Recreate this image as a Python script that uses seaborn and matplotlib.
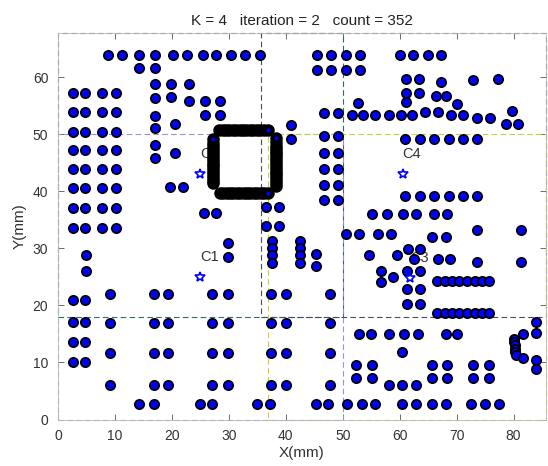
import pandas as pd
import seaborn as sns
import matplotlib.pyplot as plt
from matplotlib.patches import Rectangle

# points, grouped by area (x, y in mm)
top_left = [(8.8, 64.0), (11.2, 64.0), (14.3, 64.0), (17.0, 64.0), (20.2, 64.0), (22.6, 64.0),
            (25.5, 64.0), (27.8, 64.0), (30.3, 64.0), (32.8, 64.0), (35.4, 64.0),
            (14.3, 61.6), (17.0, 61.6),
            (17.0, 58.9), (19.9, 58.9), (23.0, 58.9),
            (17.0, 56.4), (19.9, 56.5),
            (23.0, 55.8), (25.8, 55.8), (28.5, 55.8),
            (25.8, 53.5), (28.5, 53.5),
            (17.0, 53.3), (17.0, 51.2), (17.0, 48.2), (17.0, 45.9),
            (20.5, 51.8), (20.5, 46.8)]

left_block = [(2.6, 57.2), (4.7, 57.2), (7.8, 57.2), (10.1, 57.2),
              (2.6, 53.9), (4.7, 53.9), (7.8, 53.9), (10.1, 53.9),
              (2.6, 50.4), (4.7, 50.4), (7.8, 50.4), (10.1, 50.4),
              (2.6, 47.2), (4.7, 47.2), (7.8, 47.2), (10.1, 47.2),
              (2.6, 43.9), (4.7, 43.9), (7.8, 43.9), (10.1, 43.9),
              (2.6, 40.6), (4.7, 40.6), (7.8, 40.6), (10.1, 40.6),
              (2.6, 37.1), (4.7, 37.1), (7.8, 37.1), (10.1, 37.1),
              (2.6, 33.6), (4.7, 33.6), (7.8, 33.6), (10.1, 33.6)]

left_low = [(5.0, 28.8), (5.0, 26.1), (2.6, 20.9), (4.8, 20.9), (2.6, 17.1), (4.8, 17.1),
            (2.6, 13.6), (4.8, 13.6), (2.6, 10.1), (4.8, 10.1)]

lower_grid = [(9.1, 22.1), (16.8, 22.1), (19.4, 22.1), (27.1, 22.1), (29.9, 22.1), (37.4, 22.1), (40.0, 22.1), (47.7, 22.1),
              (9.1, 16.9), (16.8, 16.9), (19.4, 16.9), (27.1, 16.9), (29.9, 16.9), (37.4, 16.9), (40.0, 16.9), (47.7, 16.9),
              (9.1, 11.7), (16.8, 11.7), (19.4, 11.7), (27.1, 11.7), (29.9, 11.7), (37.4, 11.7), (40.0, 11.7), (47.7, 11.7),
              (9.1, 6.1), (16.8, 6.1), (19.4, 6.1), (27.1, 6.1), (29.9, 6.1), (37.4, 6.1), (40.0, 6.1), (47.7, 6.1)]

bottom_row = [(14.3, 2.8), (16.8, 2.8), (24.9, 2.8), (27.1, 2.8), (35.0, 2.8), (37.2, 2.8),
              (45.3, 2.8), (47.4, 2.8), (50.8, 2.8), (53.4, 2.8), (55.6, 2.8), (60.4, 2.8),
              (62.8, 2.8), (65.7, 2.8), (68.1, 2.8), (72.6, 2.8), (74.9, 2.8), (77.5, 2.8)]

lower_right = [(52.9, 15.0), (55.0, 15.0), (58.2, 15.0), (60.8, 15.0), (63.2, 15.0), (68.1, 15.0), (70.1, 15.0),
               (60.4, 11.8),
               (52.3, 9.5), (55.2, 9.5), (65.7, 9.5), (68.3, 9.5), (72.9, 9.5), (75.7, 9.5),
               (52.3, 7.3), (55.2, 7.3), (65.7, 7.3), (68.3, 7.3), (72.9, 7.3), (75.7, 7.3),
               (58.2, 6.0), (60.4, 6.0), (62.9, 6.0)]

right_edge = [(80.0, 14.2), (80.1, 13.6), (80.2, 13.0), (80.2, 12.4), (80.3, 11.8), (80.4, 11.3),
              (81.6, 15.0), (81.6, 10.8), (84.0, 17.1), (84.0, 15.2), (84.0, 10.5), (84.0, 8.8)]

mid_right = [(61.3, 22.9), (63.5, 22.9), (61.3, 20.2), (63.5, 20.2),
             (66.5, 24.3), (67.9, 24.3), (69.2, 24.3), (70.5, 24.3), (71.8, 24.3), (73.2, 24.3), (74.4, 24.3), (75.7, 24.3),
             (66.5, 18.6), (67.9, 18.6), (69.2, 18.6), (70.5, 18.6), (71.8, 18.6), (73.2, 18.6), (74.4, 18.6), (75.7, 18.6),
             (56.8, 26.0), (61.3, 26.0), (63.6, 26.0), (56.8, 24.1), (58.8, 25.0),
             (62.6, 28.2), (66.7, 28.2), (68.9, 28.2),
             (54.6, 28.9), (59.5, 28.9),
             (61.5, 29.9), (63.6, 29.9),
             (73.6, 33.3), (81.3, 33.3), (73.6, 27.6), (81.3, 27.6),
             (50.6, 32.5), (52.9, 32.5), (56.2, 32.5), (58.4, 32.5), (65.7, 32.0), (68.1, 32.0),
             (55.2, 36.1), (57.7, 36.1), (60.6, 36.1), (62.9, 36.1), (66.1, 36.1), (68.3, 36.1),
             (60.9, 39.2), (63.5, 39.2), (66.1, 39.2), (68.6, 39.2), (71.1, 39.2), (73.6, 39.2)]

upper_right = [(61.0, 49.2), (63.5, 49.2), (66.1, 49.2), (68.6, 49.2), (71.1, 49.2), (73.6, 49.2),
               (51.6, 53.4), (53.6, 53.5), (55.6, 53.5), (58.1, 53.5), (60.2, 53.5), (62.2, 53.5),
               (64.4, 54.0), (66.7, 54.0), (69.1, 53.4), (71.1, 53.4), (73.6, 52.9), (75.9, 52.9),
               (79.7, 54.1), (78.7, 51.8), (80.8, 51.8),
               (61.2, 59.8), (63.4, 59.8), (67.2, 59.2), (72.9, 59.6), (77.3, 59.8),
               (61.1, 57.2), (63.4, 57.2), (61.2, 55.7), (66.3, 56.8), (68.2, 56.8), (70.1, 55.4),
               (52.7, 55.6),
               (45.4, 64.0), (48.0, 64.0), (50.5, 64.0), (53.1, 64.0),
               (45.4, 61.3), (48.0, 61.3), (50.5, 61.3), (53.1, 61.3),
               (60.0, 64.0), (62.3, 64.0), (64.9, 64.0), (67.3, 64.0)]

middle = [(36.6, 37.3), (38.8, 37.3), (36.6, 33.9), (38.8, 33.9),
          (37.5, 31.3), (37.5, 30.1), (37.5, 28.8), (37.5, 27.5),
          (42.5, 31.3), (42.5, 30.1), (42.5, 28.8), (42.5, 27.5),
          (45.3, 29.0), (45.3, 26.9),
          (29.9, 31.0), (29.9, 28.5),
          (46.8, 53.8), (49.2, 53.8), (46.8, 49.7), (49.2, 49.7), (46.8, 46.8), (49.2, 46.8),
          (46.8, 44.0), (49.2, 44.0), (46.8, 41.2), (49.2, 41.2), (46.8, 38.5), (49.2, 38.5),
          (41.0, 51.6), (41.0, 49.2),
          (19.6, 40.8), (21.9, 40.8), (25.7, 36.2), (27.8, 36.2)]

# dense ring of points in the middle
ring_top = [(28.3, 50.8), (28.9, 50.8), (29.5, 50.8), (30.1, 50.8), (30.7, 50.8), (31.3, 50.8), (31.9, 50.8),
            (32.5, 50.8), (33.1, 50.8), (33.7, 50.8), (34.3, 50.8), (34.9, 50.8), (35.5, 50.8), (36.1, 50.8), (36.8, 50.8)]
ring_bottom = [(28.4, 39.8), (29.0, 39.8), (29.6, 39.8), (30.2, 39.8), (30.8, 39.8), (31.4, 39.8), (32.0, 39.8),
               (32.6, 39.8), (33.2, 39.8), (33.8, 39.8), (34.4, 39.8), (35.0, 39.8), (35.6, 39.8), (36.2, 39.8), (36.9, 39.8)]
ring_left = [(27.2, 41.4), (27.2, 41.9), (27.2, 42.4), (27.2, 42.9), (27.2, 43.4), (27.2, 43.9), (27.2, 44.4), (27.2, 44.9),
             (27.2, 45.4), (27.2, 45.9), (27.2, 46.4), (27.2, 46.9), (27.2, 47.4), (27.2, 47.9), (27.2, 48.5), (27.2, 49.2)]
ring_right = [(38.2, 41.0), (38.2, 41.5), (38.2, 42.0), (38.2, 42.5), (38.2, 43.0), (38.2, 43.5), (38.2, 44.0), (38.2, 44.5),
              (38.2, 45.0), (38.2, 45.5), (38.2, 46.0), (38.2, 46.5), (38.2, 47.0), (38.2, 47.5), (38.2, 48.0),
              (38.2, 48.6), (38.2, 49.3)]

centers = ["C1", "C2", "C3", "C4"]
center_x = [25.0, 25.0, 61.9, 60.6]
center_y = [25.0, 43.0, 24.9, 43.0]

# cluster boxes: (x0, x1, y0, y1, colour)
boxes = [(0, 50, 18, 67.8, "#2f6b6b"),
         (35.6, 85.7, 18, 67.8, "#4a4a5e"),
         (0, 50, 0, 50, "#a58bd0"),
         (36.8, 85.7, 0, 50, "#c9cc3f")]

pts = (top_left + left_block + left_low + lower_grid + bottom_row + lower_right + right_edge
       + mid_right + upper_right + middle)
ring = ring_top + ring_bottom + ring_left + ring_right
df = pd.DataFrame(pts, columns=["x", "y"])
df_ring = pd.DataFrame(ring, columns=["x", "y"])

sns.set_style("ticks")
plt.rcParams["font.family"] = ["Liberation Sans", "DejaVu Sans"]

fig = plt.figure(figsize=(5.48, 4.66), dpi=100)
ax = fig.add_axes([58 / 548, 46.5 / 466, 488 / 548, 386.5 / 466])

for x0, x1, y0, y1, c in boxes:
    ax.add_patch(Rectangle((x0, y0), x1 - x0, y1 - y0, fill=False, edgecolor=c,
                           linestyle=(0, (5, 3)), linewidth=0.8, zorder=2, clip_on=False))

for name, cx, cy in zip(centers, center_x, center_y):
    ax.text(cx - 0.1, cy + 3.5, name, fontsize=10.5, color="#333333", ha="left", va="center", zorder=1)

sns.scatterplot(data=df, x="x", y="y", color="#0000ff", edgecolor="black", s=44, linewidth=1.3,
                marker="o", ax=ax, zorder=3, legend=False)
# the ring points overlap so heavily that their edges read as a black band
sns.scatterplot(data=df_ring, x="x", y="y", color="#0000ff", edgecolor="black", s=36, linewidth=3.0,
                marker="o", ax=ax, zorder=3, legend=False)
ax.plot(center_x, center_y, linestyle="none", marker="*", markersize=7, mfc="white", mec="#0000ff",
        mew=1.2, zorder=4)

ax.set_xlim(0, 85.7)
ax.set_ylim(0, 67.8)
ax.set_xticks(range(0, 81, 10))
ax.set_yticks(range(0, 61, 10))
ax.tick_params(direction="in", length=4, width=0.6, color="#555555", labelsize=10,
               labelcolor="#333333", top=True, right=True, pad=7)
for sp in ax.spines.values():
    sp.set_color("#bbbbbb")
    sp.set_linewidth(0.6)
ax.set_xlabel("X(mm)", fontsize=11, color="#333333", labelpad=2)
ax.set_ylabel("Y(mm)", fontsize=11, color="#333333", labelpad=4)
ax.set_title("K = 4   iteration = 2   count = 352", fontsize=11, color="#222222", pad=6)

fig.savefig("out.png", dpi=100)
